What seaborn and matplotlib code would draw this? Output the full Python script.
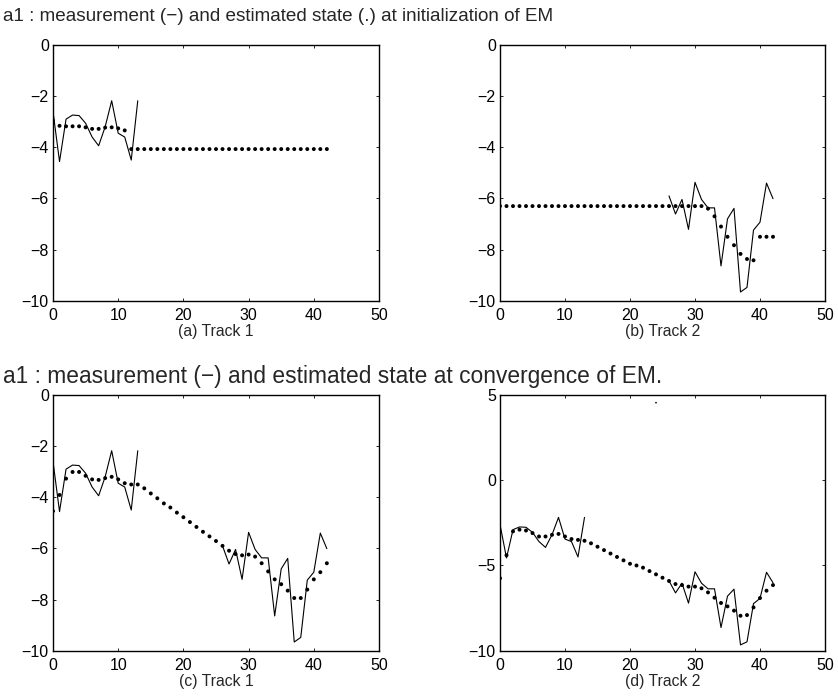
import matplotlib
matplotlib.use("Agg")
import matplotlib.pyplot as plt
import seaborn as sns
import pandas as pd

# ---------------- data ----------------
meas1_x = [0, 1, 2, 3, 4, 5, 6, 7, 8, 9, 10, 11, 12, 13]
meas1_y = [-2.6, -4.56, -2.9, -2.74, -2.76, -3.06, -3.6, -3.94, -3.2, -2.18, -3.45, -3.6, -4.5, -2.18]

meas2_x = [26, 27, 28, 29, 30, 31, 32, 33, 34, 35, 36, 37, 38, 39, 40, 41, 42]
meas2_y = [-5.9, -6.61, -6.04, -7.21, -5.37, -6.04, -6.37, -6.37, -8.64, -6.80, -6.39, -9.66, -9.48, -7.24, -6.93, -5.40, -6.01]

steps = [0, 1, 2, 3, 4, 5, 6, 7, 8, 9, 10, 11, 12, 13, 14, 15, 16, 17, 18, 19, 20,
         21, 22, 23, 24, 25, 26, 27, 28, 29, 30, 31, 32, 33, 34, 35, 36, 37, 38, 39, 40, 41, 42]

# (a) initial estimate, track 1
init1_y = [-2.96, -3.16, -3.18, -3.18, -3.18, -3.22, -3.28, -3.28, -3.23, -3.22, -3.26, -3.34,
           -4.07, -4.07, -4.07, -4.07, -4.07, -4.07, -4.07, -4.07, -4.07, -4.07, -4.07, -4.07,
           -4.07, -4.07, -4.07, -4.07, -4.07, -4.07, -4.07, -4.07, -4.07, -4.07, -4.07, -4.07,
           -4.07, -4.07, -4.07, -4.07, -4.07, -4.07, -4.07]

# (b) initial estimate, track 2
init2_y = [-6.3, -6.3, -6.3, -6.3, -6.3, -6.3, -6.3, -6.3, -6.3, -6.3, -6.3, -6.3, -6.3,
           -6.3, -6.3, -6.3, -6.3, -6.3, -6.3, -6.3, -6.3, -6.3, -6.3, -6.3, -6.3, -6.3,
           -6.3, -6.3, -6.3, -6.3, -6.3, -6.3, -6.4, -6.7, -7.1, -7.5, -7.83, -8.17, -8.37,
           -8.42, -7.5, -7.5, -7.5]

# (c) converged estimate, track 1
conv1_y = [-4.54, -3.91, -3.27, -3.01, -3.01, -3.16, -3.30, -3.32, -3.25, -3.20, -3.30, -3.45,
           -3.50, -3.50, -3.65, -3.85, -4.04, -4.24, -4.40, -4.60, -4.78, -4.97, -5.16, -5.35,
           -5.53, -5.71, -5.90, -6.09, -6.22, -6.27, -6.24, -6.32, -6.58, -6.90, -7.21, -7.40,
           -7.65, -7.94, -7.94, -7.61, -7.21, -6.93, -6.58]

# (d) converged estimate, track 2
conv2_y = [-5.75, -4.4, -3.0, -2.9, -2.95, -3.1, -3.3, -3.3, -3.2, -3.15, -3.3, -3.45,
           -3.5, -3.55, -3.7, -3.9, -4.1, -4.3, -4.5, -4.7, -4.9, -5.0, -5.13, -5.33,
           -5.52, -5.72, -5.91, -6.09, -6.15, -6.24, -6.24, -6.34, -6.58, -6.89, -7.20,
           -7.40, -7.65, -7.95, -7.91, -7.46, -6.91, -6.48, -6.15]

# small isolated speck near the top of panel (d)
speck_x = [24]
speck_y = [4.55]

top_title = "a1 : measurement (\u2212) and estimated state (.) at initialization of EM"
bottom_title = "a1 : measurement (\u2212) and estimated state at convergence of EM."
panel_labels = ["(a) Track 1", "(b) Track 2", "(c) Track 1", "(d) Track 2"]
xticks = [0, 10, 20, 30, 40, 50]
yticks_std = [-10, -8, -6, -4, -2, 0]
yticks_d = [-10, -5, 0, 5]

# ---------------- style ----------------
sns.set_style("ticks")
plt.rcParams["font.family"] = ["Liberation Sans", "DejaVu Sans"]
plt.rcParams["axes.unicode_minus"] = True

W, H = 838, 700
fig = plt.figure(figsize=(W / 100, H / 100), dpi=100)


def box(l, t, r, b):
    return [l / W, 1 - b / H, (r - l) / W, (b - t) / H]


axes = [
    fig.add_axes(box(53, 45, 379, 300.7)),
    fig.add_axes(box(500, 45, 825, 300.7)),
    fig.add_axes(box(53, 395, 379, 650.7)),
    fig.add_axes(box(500, 395, 825, 650.7)),
]

m1 = pd.DataFrame({"t": meas1_x, "v": meas1_y})
m2 = pd.DataFrame({"t": meas2_x, "v": meas2_y})
ests = [init1_y, init2_y, conv1_y, conv2_y]
lines = [[m1], [m2], [m1, m2], [m1, m2]]

for i, ax in enumerate(axes):
    for m in lines[i]:
        sns.lineplot(data=m, x="t", y="v", ax=ax, color="black", linewidth=0.8,
                     estimator=None, sort=False)
    e = pd.DataFrame({"t": steps, "v": ests[i]})
    sns.scatterplot(data=e, x="t", y="v", ax=ax, color="black", s=8,
                    edgecolor="none", linewidth=0)
    ax.set_xlim(0, 50)
    ax.set_xticks(xticks)
    if i == 3:
        ax.set_ylim(-10, 5)
        ax.set_yticks(yticks_d)
        sp = pd.DataFrame({"t": speck_x, "v": speck_y})
        sns.scatterplot(data=sp, x="t", y="v", ax=ax, color="black", s=1.5,
                        edgecolor="none", linewidth=0)
    else:
        ax.set_ylim(-10, 0)
        ax.set_yticks(yticks_std)
    ax.set_xlabel(panel_labels[i], fontsize=11.3, labelpad=1)
    ax.set_ylabel("")
    for s in ax.spines.values():
        s.set_visible(True)
        s.set_linewidth(1.0)
        s.set_color("black")
    ax.tick_params(axis="x", direction="in", top=True, length=2.5, width=0.6,
                   labelsize=11.5, pad=5, colors="black")
    ax.tick_params(axis="y", direction="in", right=True, length=2.5, width=0.6,
                   labelsize=11.5, pad=3, colors="black")

fig.text(3 / W, 1 - 21 / H, top_title, fontsize=13.6, va="baseline", ha="left")
fig.text(3 / W, 1 - 383 / H, bottom_title, fontsize=16.4, va="baseline", ha="left")

fig.savefig("out.png", dpi=100, facecolor="white")
